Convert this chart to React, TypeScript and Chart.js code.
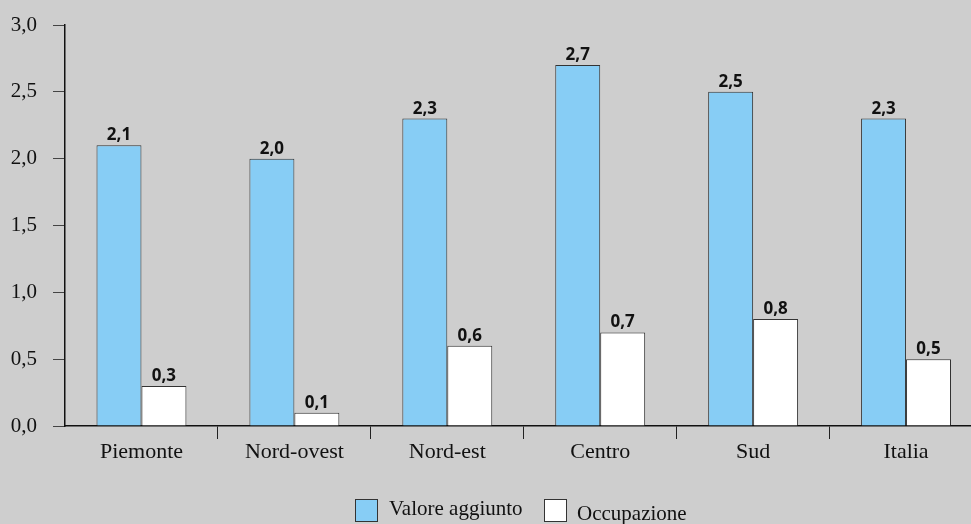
import React, { useEffect, useRef } from "react";
import { Chart, registerables } from "chart.js";

Chart.register(...registerables);

const categories = ["Piemonte", "Nord-ovest", "Nord-est", "Centro", "Sud", "Italia"];
const valoreAggiunto = [2.1, 2.0, 2.3, 2.7, 2.5, 2.3];
const occupazione = [0.3, 0.1, 0.6, 0.7, 0.8, 0.5];
const seriesNames = ["Valore aggiunto", "Occupazione"];
const yTicks = [0, 0.5, 1.0, 1.5, 2.0, 2.5, 3.0];

const BG = "#cecece";
const BLUE = "#87cdf5";
const WHITE = "#ffffff";
const EDGE = "#333333";
const SERIF = "'Liberation Serif', 'Times New Roman', serif";

const fmt = (v: number) => v.toFixed(1).replace(".", ",");

const labelsPlugin = {
  id: "valueLabels",
  afterDatasetsDraw(chart: any) {
    const ctx = chart.ctx;
    ctx.save();
    ctx.font = "bold 17px 'Noto Sans', 'DejaVu Sans', sans-serif";
    ctx.fillStyle = "#111";
    ctx.textAlign = "center";
    ctx.textBaseline = "alphabetic";
    chart.data.datasets.forEach((ds: any, i: number) => {
      const meta = chart.getDatasetMeta(i);
      meta.data.forEach((el: any, j: number) => {
        ctx.fillText(fmt(ds.data[j]), el.x, el.y - 5);
      });
    });
    ctx.restore();
  },
};

const legendPlugin = {
  id: "customLegend",
  afterDraw(chart: any) {
    const ctx = chart.ctx;
    ctx.save();
    const items = [
      { name: seriesNames[0], color: BLUE, bx: 355, tx: 389, ty: 515 },
      { name: seriesNames[1], color: WHITE, bx: 544, tx: 577, ty: 520 },
    ];
    ctx.font = `21px ${SERIF}`;
    ctx.textBaseline = "alphabetic";
    ctx.textAlign = "left";
    items.forEach((it) => {
      ctx.fillStyle = it.color;
      ctx.fillRect(it.bx, 499, 23, 23);
      ctx.strokeStyle = EDGE;
      ctx.lineWidth = 1;
      ctx.strokeRect(it.bx + 0.5, 499.5, 22, 22);
      ctx.fillStyle = "#111";
      ctx.fillText(it.name, it.tx, it.ty);
    });
    ctx.restore();
  },
};

const bgPlugin = {
  id: "bg",
  beforeDraw(chart: any) {
    const ctx = chart.ctx;
    ctx.save();
    ctx.fillStyle = BG;
    ctx.fillRect(0, 0, chart.width, chart.height);
    ctx.restore();
  },
};

export default function App() {
  const ref = useRef<HTMLCanvasElement | null>(null);

  useEffect(() => {
    document.body.style.margin = "0";
    document.body.style.background = BG;
    const chart = new Chart(ref.current as HTMLCanvasElement, {
      type: "bar",
      data: {
        labels: categories,
        datasets: [
          {
            label: seriesNames[0],
            data: valoreAggiunto,
            backgroundColor: BLUE,
            borderColor: EDGE,
            borderWidth: 1,
            categoryPercentage: 0.588,
            barPercentage: 1.0,
          },
          {
            label: seriesNames[1],
            data: occupazione,
            backgroundColor: WHITE,
            borderColor: EDGE,
            borderWidth: 1,
            categoryPercentage: 0.588,
            barPercentage: 1.0,
          },
        ],
      },
      options: {
        animation: false,
        responsive: false,
        maintainAspectRatio: false,
        layout: { padding: { top: 25, right: 17.5, bottom: 0, left: 0 } },
        plugins: {
          legend: { display: false },
          tooltip: { enabled: false },
        },
        scales: {
          x: {
            offset: true,
            grid: {
              offset: true,
              drawOnChartArea: false,
              tickLength: 13,
              color: (c: any) => (c.index === 0 ? "rgba(0,0,0,0)" : "#222"),
              lineWidth: 1,
            },
            border: { color: "#111", width: 1.5 },
            ticks: {
              color: "#111",
              font: { family: SERIF, size: 22 },
              padding: 0,
            },
            afterFit: (s: any) => {
              s.height = 98;
            },
          },
          y: {
            min: 0,
            max: 3,
            afterBuildTicks: (s: any) => {
              s.ticks = yTicks.map((v) => ({ value: v }));
            },
            grid: {
              drawOnChartArea: false,
              tickLength: 12,
              color: "#444",
              lineWidth: 1,
            },
            border: { color: "#111", width: 1.5 },
            ticks: {
              color: "#111",
              font: { family: SERIF, size: 21, lineHeight: 0.8 },
              padding: 16,
              callback: (v: any) => fmt(Number(v)),
            },
            afterFit: (s: any) => {
              s.width = 65;
            },
          },
        },
      },
      plugins: [bgPlugin, labelsPlugin, legendPlugin],
    });
    return () => chart.destroy();
  }, []);

  return (
    <div
      style={{
        position: "absolute",
        left: 0,
        top: 0,
        width: 971,
        height: 524,
        overflow: "hidden",
        background: BG,
      }}
    >
      <canvas ref={ref} width={1000} height={524} style={{ display: "block" }} />
    </div>
  );
}
